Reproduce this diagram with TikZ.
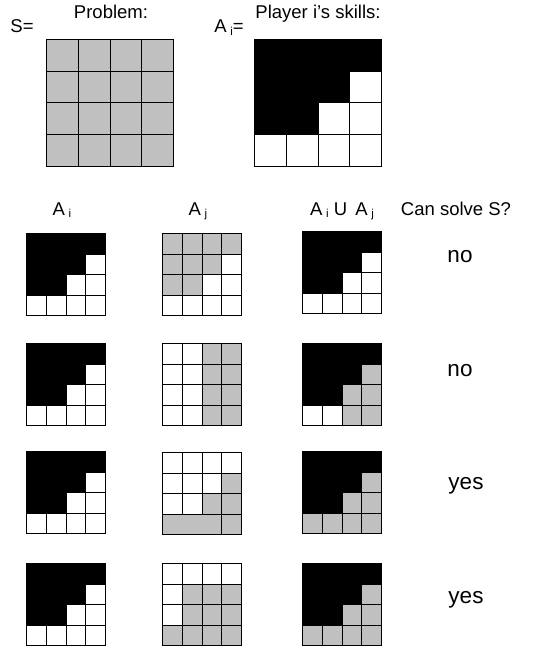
\documentclass[tikz,border=0pt]{standalone}
\usepackage{fontspec}
\setmainfont{Liberation Sans}
\usepackage{tikz}
\usetikzlibrary{matrix}
\definecolor{silver}{HTML}{C0C0C0}
\newcommand{\idx}[1]{\hspace{0.2em}\raisebox{-0.3ex}{\fontsize{11.5}{12}\selectfont #1}}

\begin{document}
\begin{tikzpicture}[x=1pt, y=-1pt, every node/.style={font=\fontsize{18.5}{21}\selectfont},
	grid/.style={matrix of nodes, nodes in empty cells, anchor=north west, inner sep=0pt, outer sep=0pt, column sep=-0.9pt, row sep=-0.9pt,
		nodes={draw, line width=0.9pt, fill=white, inner sep=0pt, outer sep=0pt, anchor=center}},
	big/.style={grid, nodes={minimum width=31.75pt, minimum height=31.75pt}},
	small/.style={grid, nodes={minimum width=19.75pt, minimum height=20.5pt}},
	blk/.style={fill=black}, gry/.style={fill=silver},
	answer/.style={anchor=base, font=\fontsize{22.5}{26}\selectfont}]
	\useasboundingbox (0,0) rectangle (542,650);
	\fill[white] (0,0) rectangle (542,650);

	% top: the problem and player i
	\node[anchor=base] (prob) at (111,19) {Problem:};
	\node[anchor=base] (play) at (318,19) {Player i's skills:};
	\node[anchor=base] (slab) at (22,33) {S=};
	\node[anchor=base] (alab) at (229,33) {A\idx{i}=};
	\matrix (S) [big] at (46,39) {
		|[gry]| & |[gry]| & |[gry]| & |[gry]| \\
		|[gry]| & |[gry]| & |[gry]| & |[gry]| \\
		|[gry]| & |[gry]| & |[gry]| & |[gry]| \\
		|[gry]| & |[gry]| & |[gry]| & |[gry]| \\
	};
	\matrix (A) [big] at (254,39) {
		|[blk]| & |[blk]| & |[blk]| & |[blk]| \\
		|[blk]| & |[blk]| & |[blk]| & \\
		|[blk]| & |[blk]| & & \\
		& & & \\
	};

	% column heads
	\node[anchor=base] (hi) at (62,215) {A\idx{i}};
	\node[anchor=base] (hj) at (198,215) {A\idx{j}};
	\node[anchor=base] (hu) at (342,215) {A\idx{i} U\, A\idx{j}};
	\node[anchor=base] (hs) at (456,215) {Can solve S?};

	% row 1
	\matrix (Ai1) [small] at (26,233) {
		|[blk]| & |[blk]| & |[blk]| & |[blk]| \\
		|[blk]| & |[blk]| & |[blk]| & \\
		|[blk]| & |[blk]| & & \\
		& & & \\
	};
	\matrix (Aj1) [small] at (162,233) {
		|[gry]| & |[gry]| & |[gry]| & |[gry]| \\
		|[gry]| & |[gry]| & |[gry]| & \\
		|[gry]| & |[gry]| & & \\
		& & & \\
	};
	\matrix (U1) [small] at (302,231) {
		|[blk]| & |[blk]| & |[blk]| & |[blk]| \\
		|[blk]| & |[blk]| & |[blk]| & \\
		|[blk]| & |[blk]| & & \\
		& & & \\
	};
	\node[answer] (ans1) at (460,262) {no};

	% row 2
	\matrix (Ai2) [small] at (26,343) {
		|[blk]| & |[blk]| & |[blk]| & |[blk]| \\
		|[blk]| & |[blk]| & |[blk]| & \\
		|[blk]| & |[blk]| & & \\
		& & & \\
	};
	\matrix (Aj2) [small] at (162,343) {
		& & |[gry]| & |[gry]| \\
		& & |[gry]| & |[gry]| \\
		& & |[gry]| & |[gry]| \\
		& & |[gry]| & |[gry]| \\
	};
	\matrix (U2) [small] at (302,343) {
		|[blk]| & |[blk]| & |[blk]| & |[blk]| \\
		|[blk]| & |[blk]| & |[blk]| & |[gry]| \\
		|[blk]| & |[blk]| & |[gry]| & |[gry]| \\
		& & |[gry]| & |[gry]| \\
	};
	\node[answer] (ans2) at (460,376) {no};

	% row 3
	\matrix (Ai3) [small] at (26,451) {
		|[blk]| & |[blk]| & |[blk]| & |[blk]| \\
		|[blk]| & |[blk]| & |[blk]| & \\
		|[blk]| & |[blk]| & & \\
		& & & \\
	};
	\matrix (Aj3) [small] at (162,452) {
		& & & \\
		& & & |[gry]| \\
		& & |[gry]| & |[gry]| \\
		|[gry]| & |[gry]| & |[gry]| & |[gry]| \\
	};
	\draw[line width=0.9pt, fill=silver] (Aj3-4-1.north west) rectangle (Aj3-4-3.south east);
	\matrix (U3) [small] at (302,451) {
		|[blk]| & |[blk]| & |[blk]| & |[blk]| \\
		|[blk]| & |[blk]| & |[blk]| & |[gry]| \\
		|[blk]| & |[blk]| & |[gry]| & |[gry]| \\
		|[gry]| & |[gry]| & |[gry]| & |[gry]| \\
	};
	\node[answer] (ans3) at (466,489) {yes};

	% row 4
	\matrix (Ai4) [small] at (26,563) {
		|[blk]| & |[blk]| & |[blk]| & |[blk]| \\
		|[blk]| & |[blk]| & |[blk]| & \\
		|[blk]| & |[blk]| & & \\
		& & & \\
	};
	\matrix (Aj4) [small] at (162,563) {
		& & & \\
		& |[gry]| & |[gry]| & |[gry]| \\
		& |[gry]| & |[gry]| & |[gry]| \\
		|[gry]| & |[gry]| & |[gry]| & |[gry]| \\
	};
	\matrix (U4) [small] at (302,563) {
		|[blk]| & |[blk]| & |[blk]| & |[blk]| \\
		|[blk]| & |[blk]| & |[blk]| & |[gry]| \\
		|[blk]| & |[blk]| & |[gry]| & |[gry]| \\
		|[gry]| & |[gry]| & |[gry]| & |[gry]| \\
	};
	\node[answer] (ans4) at (466,603) {yes};
\end{tikzpicture}
\end{document}
